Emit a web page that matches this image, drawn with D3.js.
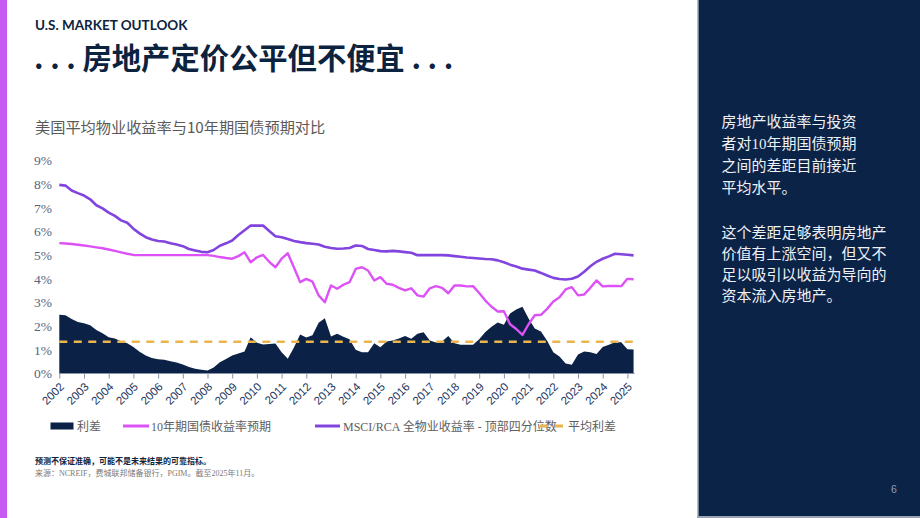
<!DOCTYPE html>
<html><head><meta charset="utf-8">
<script src="https://cdn.jsdelivr.net/npm/d3@7"></script>
<style>
html,body{margin:0;padding:0;background:#fff;}
svg{display:block;}
</style></head>
<body>
<svg id="c" width="920" height="518"></svg>
<script>
// ---- data ----
const years = [2002,2003,2004,2005,2006,2007,2008,2009,2010,2011,2012,2013,2014,2015,2016,2017,2018,2019,2020,2021,2022,2023,2024,2025];
const yTicks = [0,1,2,3,4,5,6,7,8,9];
// quarterly observations 2002Q1 .. 2025Q2
const spread = [
 2.48,2.46,2.30,2.18, 2.12,2.04,1.84,1.70, 1.53,1.48,1.36,1.28, 1.12,0.92,0.76,0.65,
 0.60,0.58,0.52,0.46, 0.38,0.27,0.20,0.16, 0.13,0.25,0.48,0.61, 0.76,0.85,0.93,1.53,
 1.30,1.23,1.25,1.27, 0.90,0.62,1.10,1.65, 1.52,1.62,2.14,2.33, 1.56,1.68,1.55,1.45,
 1.00,0.90,0.90,1.28, 1.11,1.35,1.39,1.48, 1.58,1.47,1.68,1.74, 1.39,1.31,1.36,1.58,
 1.28,1.22,1.22,1.21, 1.45,1.75,1.98,2.15, 2.06,2.54,2.70,2.82, 2.32,1.90,1.77,1.38,
 0.90,0.72,0.42,0.37, 0.80,0.93,0.90,0.82, 1.12,1.22,1.32,1.32, 1.02,1.01];
const treasury = [
 5.51,5.49,5.47,5.44, 5.41,5.37,5.33,5.29, 5.24,5.18,5.12,5.06, 5.01,5.00,5.00,5.00,
 5.00,5.00,5.00,5.00, 5.00,5.00,5.00,5.00, 5.00,4.97,4.92,4.88, 4.85,4.96,5.12,4.70,
 4.91,5.01,4.72,4.49, 4.85,5.08,4.48,3.86, 4.00,3.88,3.30,3.01, 3.72,3.58,3.75,3.86,
 4.42,4.49,4.35,3.93, 4.07,3.79,3.75,3.62, 3.51,3.60,3.30,3.25, 3.60,3.69,3.62,3.39,
 3.72,3.72,3.68,3.69, 3.40,3.08,2.82,2.62, 2.63,2.08,1.88,1.63, 2.08,2.46,2.48,2.73,
 3.04,3.22,3.55,3.65, 3.30,3.34,3.62,3.93, 3.68,3.70,3.70,3.69, 4.00,3.98];
const msci = [
 7.97,7.94,7.73,7.62, 7.52,7.36,7.11,6.98, 6.80,6.66,6.47,6.37, 6.12,5.92,5.76,5.66,
 5.60,5.58,5.50,5.45, 5.38,5.26,5.20,5.14, 5.12,5.22,5.40,5.50, 5.62,5.85,6.05,6.25,
 6.25,6.25,6.02,5.80, 5.76,5.68,5.60,5.55, 5.51,5.48,5.45,5.36, 5.30,5.27,5.28,5.30,
 5.41,5.39,5.26,5.22, 5.17,5.16,5.18,5.16, 5.13,5.10,5.00,5.00, 5.00,5.00,5.00,4.99,
 4.96,4.93,4.90,4.88, 4.86,4.84,4.83,4.78, 4.70,4.60,4.52,4.43, 4.39,4.35,4.25,4.14,
 4.04,3.99,3.97,4.00, 4.10,4.30,4.53,4.72, 4.85,4.95,5.06,5.04, 5.02,4.99];
const avgSpread = 1.34;
const quarters = years.flatMap(y => [0,1,2,3].map(q => y + q/4)).slice(0, spread.length);

const seriesNames = ["利差","10年期国债收益率预期","MSCI/RCA 全物业收益率 - 顶部四分位数","平均利差"];
const colors = {spread:"#0b2246", treasury:"#dc52f6", msci:"#8244de", avg:"#e9b54c", navy:"#0c2340"};

// ---- drawing ----
const svg = d3.select("#c");
const serifMix = "'Liberation Serif','Noto Sans CJK SC',serif";
const cjk = "'Noto Sans CJK SC','Noto Sans',sans-serif";

// left accent bar
svg.append("rect").attr("x",0).attr("y",0).attr("width",7).attr("height",518).attr("fill","#c659f2");

// right panel
svg.append("rect").attr("x",697).attr("y",0).attr("width",1.5).attr("height",518).attr("fill","#b9bfc9");
svg.append("rect").attr("x",698.5).attr("y",0).attr("width",221.5).attr("height",518).attr("fill","#0b2347");
svg.append("rect").attr("x",697).attr("y",516).attr("width",223).attr("height",2).attr("fill","#9aa4b4");

svg.append("text").attr("x",35).attr("y",30).text("U.S. MARKET OUTLOOK")
  .attr("font-family","Lato,'Noto Sans',sans-serif").attr("font-weight",700).attr("font-size",13.5).attr("fill",colors.navy);
svg.append("text").attr("x",34).attr("y",69).text(". . . 房地产定价公平但不便宜 . . .")
  .attr("font-family",cjk).attr("font-weight",700).attr("font-size",29.3).attr("fill",colors.navy);
svg.append("text").attr("x",35).attr("y",132.5).text("美国平均物业收益率与10年期国债预期对比")
  .attr("font-family",cjk).attr("font-weight",400).attr("font-size",15.2).attr("fill","#5a5a5a");

// scales
const x = d3.scaleLinear().domain([2002, 2025]).range([59.3, 627.4]);
const y = d3.scaleLinear().domain([0, 9]).range([373.5, 160.5]);

const g = svg.append("g");

// area (spread)
const area = d3.area().x((d,i)=>x(quarters[i])).y0(y(0)).y1(d=>y(d));
g.append("path").datum(spread).attr("d",area).attr("fill",colors.spread);

// average dashed
g.append("line").attr("x1",x(quarters[0])).attr("x2",x(quarters[quarters.length-1]))
  .attr("y1",y(avgSpread)).attr("y2",y(avgSpread))
  .attr("stroke",colors.avg).attr("stroke-width",2.6).attr("stroke-dasharray","8,6.5");

const line = d3.line().x((d,i)=>x(quarters[i])).y(d=>y(d));
g.append("path").datum(treasury).attr("d",line).attr("fill","none")
  .attr("stroke",colors.treasury).attr("stroke-width",2.4).attr("stroke-linejoin","round");
g.append("path").datum(msci).attr("d",line).attr("fill","none")
  .attr("stroke",colors.msci).attr("stroke-width",2.6).attr("stroke-linejoin","round");

// y axis labels
const ya = svg.append("g").attr("transform","translate(52,0)")
  .call(d3.axisLeft(y).tickValues(yTicks).tickSize(0).tickPadding(0).tickFormat(d=>d+"%"));
ya.select(".domain").remove();
ya.selectAll("text").attr("font-family",serifMix).attr("font-size",13.5).attr("fill","#55657e");

// x axis
const xa = svg.append("g").attr("transform",`translate(0,${y(0)})`)
  .call(d3.axisBottom(x).tickValues(years).tickSize(5).tickFormat(d=>String(d)));
xa.select(".domain").attr("d",`M${x(quarters[0])},0H${x(quarters[quarters.length-1])+1}`).attr("stroke","#8593a8");
xa.selectAll(".tick line").attr("stroke","#8593a8");
xa.selectAll("text").attr("font-family","'Liberation Sans',Arial,sans-serif").attr("font-size",11.5)
  .attr("fill","#1c355e").attr("text-anchor","end").attr("dy",0).attr("y",0)
  .attr("transform","translate(5,14) rotate(-45)");

// legend
const lg = svg.append("g").attr("font-family",serifMix).attr("font-size",12).attr("fill","#5e5e5e");
const ly = 426;
lg.append("rect").attr("x",50.5).attr("y",ly-3.5).attr("width",23).attr("height",7).attr("fill",colors.spread);
lg.append("text").attr("x",77).attr("y",ly+4.5).text(seriesNames[0]);
lg.append("line").attr("x1",123).attr("x2",149).attr("y1",ly).attr("y2",ly).attr("stroke",colors.treasury).attr("stroke-width",3);
lg.append("text").attr("x",151).attr("y",ly+4.5).text(seriesNames[1]);
lg.append("line").attr("x1",315).attr("x2",340).attr("y1",ly).attr("y2",ly).attr("stroke",colors.msci).attr("stroke-width",3);
lg.append("text").attr("x",343).attr("y",ly+4.5).text(seriesNames[2]);
lg.append("text").attr("x",568).attr("y",ly+4.5).text(seriesNames[3]);
lg.append("line").attr("x1",540).attr("x2",564).attr("y1",ly).attr("y2",ly).attr("stroke",colors.avg).attr("stroke-width",3).attr("stroke-dasharray","8,7");

// footnotes
svg.append("text").attr("x",35).attr("y",464).text("预测不保证准确，可能不是未来结果的可靠指标。")
  .attr("font-family",cjk).attr("font-weight",700).attr("font-size",8).attr("fill",colors.navy);
svg.append("text").attr("x",35).attr("y",475.5).text("来源：NCREIF，费城联邦储备银行，PGIM。截至2025年11月。")
  .attr("font-family",serifMix).attr("font-size",8).attr("fill","#7a7a7a");

// panel text
const para1 = ["房地产收益率与投资","者对10年期国债预期","之间的差距目前接近","平均水平。"];
const para2 = ["这个差距足够表明房地产","价值有上涨空间，但又不","足以吸引以收益为导向的","资本流入房地产。"];
const pt = svg.append("g").attr("font-family",serifMix).attr("font-size",15).attr("fill","#eef1f6");
para1.forEach((t,i)=>pt.append("text").attr("x",721.5).attr("y",127+i*22).text(t));
para2.forEach((t,i)=>pt.append("text").attr("x",721.5).attr("y",238+i*21).text(t));

svg.append("text").attr("x",891).attr("y",493).text("6")
  .attr("font-family","'Liberation Sans',sans-serif").attr("font-size",10.5).attr("fill","#8e9cb6");
</script>
</body></html>
